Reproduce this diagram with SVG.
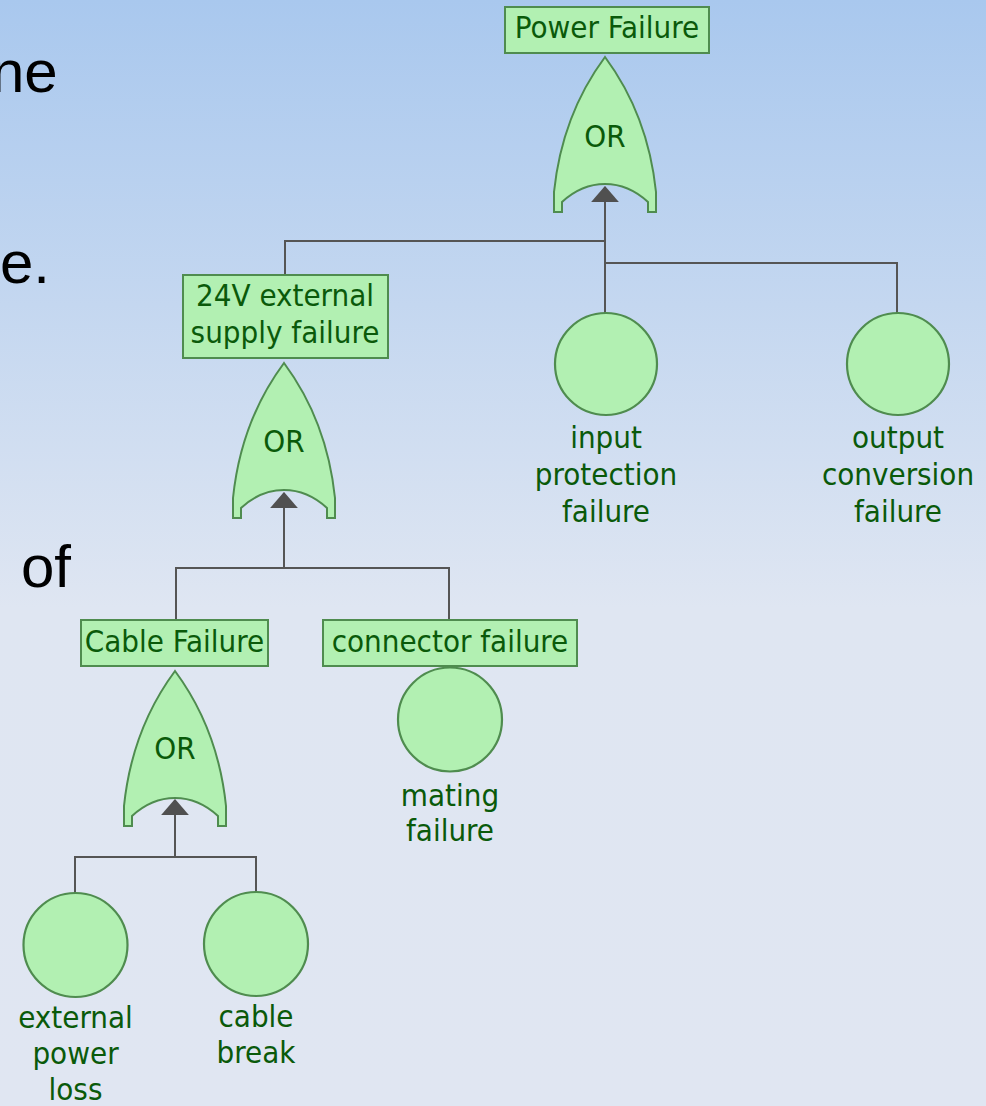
<svg xmlns="http://www.w3.org/2000/svg" width="986" height="1106" viewBox="0 0 986 1106">
<defs>
<linearGradient id="bg" x1="0" y1="0" x2="0" y2="1106" gradientUnits="userSpaceOnUse">
<stop offset="0" stop-color="#a9c8ee"/>
<stop offset="0.55" stop-color="#dfe6f2"/>
<stop offset="1" stop-color="#e0e6f2"/>
</linearGradient>
<path id="gate" d="M0 0 Q-43 58 -51 135 L-51 155 L-43 155 L-43 145 C-30 133 -15 127 0 127 C15 127 30 133 43 145 L43 155 L51 155 L51 135 Q43 58 0 0 Z"/>
<marker id="arr" markerUnits="userSpaceOnUse" markerWidth="16" markerHeight="28" viewBox="0 -13 15 26" refX="14" refY="0" orient="auto">
<path d="M0 -13 L15 0 L0 13 Z" fill="#505050"/>
</marker>
<style>
.box{fill:#b2f0b2;stroke:#4f8c4f;stroke-width:2}
.ev{fill:#b2f0b2;stroke:#4f8c4f;stroke-width:2.2}
.g{fill:#b2f0b2;stroke:#4f8c4f;stroke-width:2}
.t{font-family:"DejaVu Sans Condensed","DejaVu Sans",sans-serif;font-size:31px;fill:#0a5a0a;text-anchor:middle}
.big{font-family:"Liberation Sans",Arial,sans-serif;font-size:60px;fill:#000}
.c{fill:none;stroke:#555;stroke-width:2}
</style>
</defs>
<rect x="0" y="0" width="986" height="1106" fill="url(#bg)"/>
<g id="bgtext">
<text class="big" x="-9" y="92">ne</text>
<text class="big" x="0" y="283">e.</text>
<text class="big" x="21" y="587">of</text>
</g>
<g id="connectors">
<path class="c" d="M285 275 V241 H605"/>
<path class="c" d="M897 313 V263 H605"/>
<path class="c" d="M605 313 V187" marker-end="url(#arr)"/>
<path class="c" d="M176 620 V568 H449 V620"/>
<path class="c" d="M284 568 V493" marker-end="url(#arr)"/>
<path class="c" d="M75 893 V857 H256 V892"/>
<path class="c" d="M175 857 V800" marker-end="url(#arr)"/>
<path class="c" d="M450 666 V668"/>
</g>
<g id="power-failure">
<rect class="box" x="505" y="7" width="204" height="46"/>
<text class="t" x="607" y="38">Power Failure</text>
<use href="#gate" class="g" x="605" y="57"/>
<text class="t" x="605" y="147">OR</text>
</g>
<g id="ext-supply-failure">
<rect class="box" x="183" y="275" width="205" height="83"/>
<text class="t" x="285" y="306">24V external</text>
<text class="t" x="285" y="343">supply failure</text>
<use href="#gate" class="g" x="284" y="363"/>
<text class="t" x="284" y="452">OR</text>
</g>
<g id="input-protection-failure">
<circle class="ev" cx="606" cy="364" r="51"/>
<text class="t" x="606" y="448">input</text>
<text class="t" x="606" y="485">protection</text>
<text class="t" x="606" y="522">failure</text>
</g>
<g id="output-conversion-failure">
<circle class="ev" cx="898" cy="364" r="51"/>
<text class="t" x="898" y="448">output</text>
<text class="t" x="898" y="485">conversion</text>
<text class="t" x="898" y="522">failure</text>
</g>
<g id="cable-failure">
<rect class="box" x="81" y="620" width="187" height="46"/>
<text class="t" x="174.5" y="652">Cable Failure</text>
<use href="#gate" class="g" x="175" y="671"/>
<text class="t" x="175" y="759">OR</text>
</g>
<g id="connector-failure">
<rect class="box" x="323" y="620" width="254" height="46"/>
<text class="t" x="450" y="652">connector failure</text>
</g>
<g id="mating-failure">
<circle class="ev" cx="450" cy="719.5" r="52"/>
<text class="t" x="450" y="806">mating</text>
<text class="t" x="450" y="841">failure</text>
</g>
<g id="external-power-loss">
<circle class="ev" cx="75.5" cy="945" r="52"/>
<text class="t" x="75.5" y="1028">external</text>
<text class="t" x="75.5" y="1064">power</text>
<text class="t" x="75.5" y="1100">loss</text>
</g>
<g id="cable-break">
<circle class="ev" cx="256" cy="944" r="52"/>
<text class="t" x="256" y="1027">cable</text>
<text class="t" x="256" y="1063">break</text>
</g>
</svg>
